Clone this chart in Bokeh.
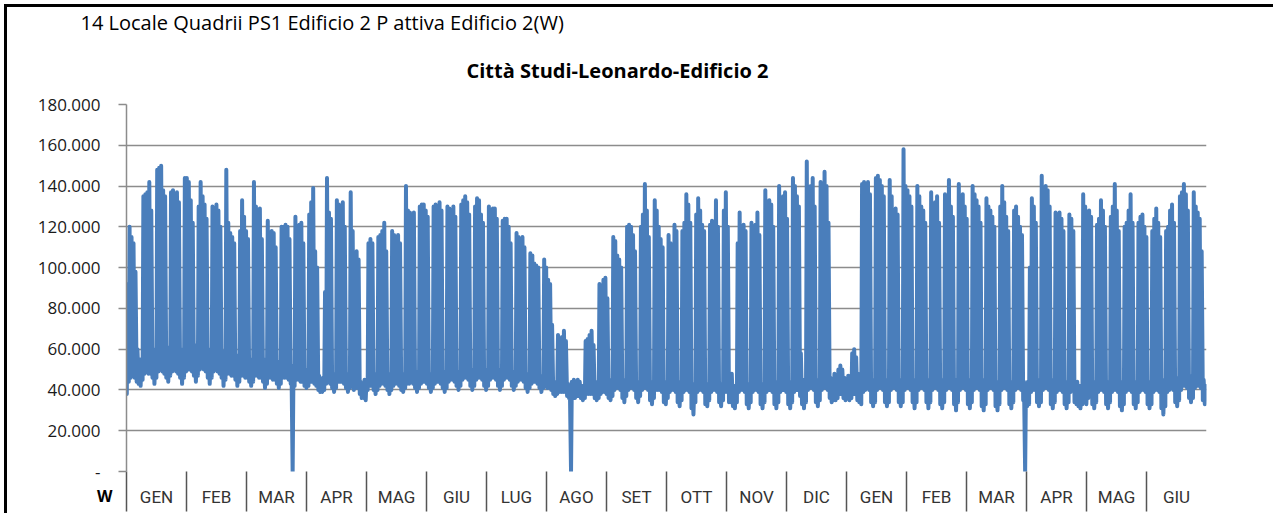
from bokeh.plotting import figure
from bokeh.layouts import column
from bokeh.models import FixedTicker, CustomJSTickFormatter, Range1d, Title, Div
from bokeh.embed import file_html
from bokeh.resources import INLINE

# ---------------- data (kW) ----------------
month_labels = ["GEN", "FEB", "MAR", "APR", "MAG", "GIU", "LUG", "AGO", "SET",
                "OTT", "NOV", "DIC", "GEN", "FEB", "MAR", "APR", "MAG", "GIU"]

y_ticks = [0, 20000, 40000, 60000, 80000, 100000, 120000, 140000, 160000, 180000]
y_tick_labels = ["-", "20.000", "40.000", "60.000", "80.000", "100.000",
                 "120.000", "140.000", "160.000", "180.000"]

# daily peak power (thousands of W), 1 Jan 2012 - 31 Dec 2012
day_peak_2012 = [
    92,120,115,112,98,60,55,52,135,136,137,142,128,60,55,148,149,150,138,135,61,56,137,138,136,137,132,60,55,144,144,  # GEN
    142,133,122,62,58,130,142,135,131,124,60,55,130,129,131,128,120,59,54,148,122,117,115,112,57,52,118,133,125,       # FEB
    118,114,55,51,142,130,128,129,114,55,50,123,116,118,117,110,54,50,120,120,121,120,114,52,48,125,118,121,122,112,50, # MAR
    48,126,132,139,108,100,47,44,46,88,144,127,124,48,45,133,131,130,132,120,48,45,137,118,52,108,104,44,42,45,         # APR
    45,112,114,112,48,45,115,116,118,122,108,48,45,118,116,114,116,112,48,45,140,128,127,125,127,49,46,130,131,131,128, # MAG
    125,48,45,130,131,130,132,128,49,46,130,129,127,130,125,49,46,131,133,135,132,126,50,47,130,134,133,126,122,50,     # GIU
    48,130,128,129,129,124,50,47,123,124,124,120,112,49,46,117,115,114,115,110,48,46,107,106,102,101,100,47,45,104,100, # LUG
    94,92,72,44,42,67,65,66,69,64,43,42,44,45,42,45,44,42,41,64,65,67,69,62,44,42,92,90,94,95,85,                      # AGO
    45,43,115,113,106,104,100,45,42,120,121,120,116,108,44,42,120,126,141,128,115,44,42,133,128,120,114,110,44,42,     # SET
    116,112,108,121,118,44,42,118,122,136,131,122,43,41,126,134,128,121,118,43,41,121,123,122,133,120,43,41,128,137,120, # OTT
    45,48,42,41,112,127,120,121,118,43,41,122,120,121,127,116,43,41,138,126,133,131,120,44,42,140,128,135,137,124,      # NOV
    44,42,144,140,135,130,58,45,43,152,135,140,144,130,45,43,142,138,147,140,122,46,44,48,45,50,52,50,46,44,47,        # DIC
]
# daily peak power (thousands of W), 1 Jan 2013 - 30 Jun 2013
day_peak_2013 = [
    46,58,60,56,48,46,141,142,140,142,136,45,43,144,145,143,140,135,45,43,143,135,128,129,126,45,43,158,140,138,135,   # GEN
    130,45,43,140,135,130,128,122,45,43,137,130,132,135,122,45,43,136,134,143,130,125,45,42,141,132,136,130,          # FEB
    124,45,43,140,136,133,130,122,45,43,134,130,128,125,120,44,42,130,140,132,125,118,44,42,128,130,125,120,116,44,42, # MAR
    44,100,134,130,122,45,42,145,136,140,138,130,45,42,127,125,127,124,118,44,42,126,124,118,42,44,42,40,136,130,     # APR
    45,128,125,44,42,121,124,133,128,120,44,42,125,130,141,128,118,44,42,120,122,128,136,122,44,42,122,125,126,120,115, # MAG
    44,42,118,124,129,122,115,45,42,118,120,128,131,122,46,43,135,137,141,136,128,47,44,137,130,127,124,108,45,42,     # GIU
]
# daily night minimum (thousands of W), 2012
day_low_2012 = [
    38,44,46,47,46,44,43,42,45,48,49,48,48,46,43,46,49,50,49,48,46,44,47,49,50,49,48,46,43,46,49,   # GEN
    50,50,49,47,44,47,50,51,50,49,46,43,46,49,50,49,48,46,42,45,48,48,47,47,45,42,44,47,47,         # FEB
    46,46,44,42,44,47,47,46,46,44,41,43,46,46,45,45,43,41,43,46,46,46,45,43,0,42,45,45,44,44,42,    # MAR
    41,42,44,44,43,42,40,39,39,40,43,44,43,41,39,41,44,44,44,43,41,39,41,43,40,41,41,38,36,36,      # APR
    35,40,42,42,40,38,40,42,43,43,42,40,38,40,42,43,43,42,40,39,41,43,43,44,43,41,39,41,43,44,44,   # MAG
    43,41,39,41,43,44,44,43,41,39,41,44,45,45,44,42,40,42,45,46,46,45,42,40,42,45,46,46,45,42,      # GIU
    40,42,45,46,46,45,42,40,42,45,46,46,45,42,40,42,44,45,45,44,41,39,41,43,44,44,43,41,39,41,43,   # LUG
    41,41,40,38,37,38,39,39,39,39,37,36,0,37,36,37,37,36,35,36,38,38,38,38,36,35,36,38,39,39,38,    # AGO
    36,35,37,40,41,41,40,36,34,37,40,41,41,40,36,34,37,40,41,41,40,35,33,36,40,40,40,39,34,33,      # SET
    36,39,40,40,39,34,32,35,39,40,40,39,31,28,34,39,40,40,39,33,32,35,39,40,40,39,34,32,35,39,39,   # OTT
    34,34,32,31,34,39,40,40,39,33,31,34,39,40,40,39,33,31,34,39,40,40,39,33,31,34,39,40,40,39,      # NOV
    33,31,34,39,40,40,37,33,31,34,40,41,41,40,34,32,35,40,41,41,40,36,34,35,35,36,38,38,36,35,36,   # DIC
]
# daily night minimum (thousands of W), 2013
day_low_2013 = [
    35,36,38,38,35,34,33,39,40,41,40,34,32,34,40,41,41,40,34,32,34,40,41,41,40,34,32,34,40,41,41,   # GEN
    40,34,31,34,40,41,41,40,34,31,34,40,41,41,40,33,31,34,40,41,41,40,33,30,34,40,41,41,            # FEB
    40,33,31,34,40,41,41,40,32,30,33,40,41,41,40,32,30,33,40,41,41,40,33,31,34,40,41,41,40,35,0,    # MAR
    32,33,39,40,40,34,32,34,40,41,41,40,33,31,34,39,40,40,39,33,31,34,39,40,34,33,32,31,33,39,      # APR
    33,36,39,33,31,34,39,40,40,39,33,31,34,39,40,40,39,32,30,33,39,40,40,39,33,31,34,39,40,40,39,   # MAG
    33,31,33,39,40,40,39,31,28,32,39,40,41,40,34,32,35,40,42,42,41,36,34,36,41,42,42,41,35,33,      # GIU
]

# ---------------- build the trace ----------------
peaks = day_peak_2012 + day_peak_2013
lows = day_low_2012 + day_low_2013
n_days = min(len(peaks), len(lows))
n_months = len(month_labels)
xs, ys = [], []
for i in range(n_days):
    xs.append((i + 0.15) * n_months / n_days)
    ys.append(lows[i] * 1000)
    xs.append((i + 0.55) * n_months / n_days)
    ys.append(peaks[i] * 1000)

BLUE = "#4A7EBB"
GRID = "#8C8C8C"

p = figure(width=1269, height=509, output_backend="svg", toolbar_location=None,
           x_range=Range1d(0, n_months), y_range=Range1d(0, 180000),
           min_border_left=119, min_border_right=70,
           min_border_top=97, min_border_bottom=45,
           background_fill_color="white", border_fill_color="white")
p.styles = {"border-left": "3px solid black", "border-top": "3px solid black",
            "margin-left": "4px", "margin-top": "4px"}
p.outline_line_color = None

p.line(xs, ys, line_color=BLUE, line_width=4, line_join="round", line_cap="round")

# y axis
p.yaxis.ticker = FixedTicker(ticks=y_ticks)
p.yaxis.major_label_overrides = {t: s for t, s in zip(y_ticks, y_tick_labels)}
p.yaxis.axis_line_color = GRID
p.yaxis.axis_line_width = 1.5
p.yaxis.major_tick_line_color = GRID
p.yaxis.major_tick_line_width = 1.5
p.yaxis.major_tick_out = 8
p.yaxis.major_tick_in = 0
p.yaxis.minor_tick_line_color = None
p.yaxis.major_label_standoff = 18
p.yaxis.major_label_text_font = "Open Sans"
p.yaxis.major_label_text_font_size = "17px"
p.yaxis.major_label_text_color = "#1a1a1a"

p.ygrid.grid_line_color = GRID
p.ygrid.grid_line_width = 1.5
p.xgrid.visible = False

# x axis: month labels at centres, separators at month boundaries
p.xaxis.ticker = FixedTicker(ticks=[k + 0.5 for k in range(n_months)],
                             minor_ticks=list(range(n_months)))
p.xaxis.formatter = CustomJSTickFormatter(args=dict(labels=month_labels),
                                          code="return labels[Math.floor(tick)] || '';")
p.xaxis.axis_line_color = None
p.xaxis.major_tick_line_color = None
p.xaxis.major_tick_out = 0
p.xaxis.major_tick_in = 0
p.xaxis.minor_tick_line_color = "#555555"
p.xaxis.minor_tick_line_width = 1.5
p.xaxis.minor_tick_in = 0
p.xaxis.minor_tick_out = 40
p.xaxis.major_label_standoff = -25
p.xaxis.major_label_text_font = "Roboto"
p.xaxis.major_label_text_font_size = "17px"
p.xaxis.major_label_text_color = "#333333"

# titles (main title closest to the frame, subtitle above it)
p.add_layout(Title(text="Città Studi-Leonardo-Edificio 2", align="left", offset=340,
                   standoff=42, text_font="Open Sans", text_font_size="20px",
                   text_font_style="bold", text_color="#000000"), "above")
p.add_layout(Title(text="14 Locale Quadrii PS1 Edificio 2 P attiva Edificio 2(W)",
                   align="left", offset=-46, standoff=-4, text_font="Open Sans",
                   text_font_size="20px", text_font_style="normal",
                   text_color="#000000"), "above")

# unit label left of the month row
unit_label = Div(text="W", styles={"margin-top": "-28px", "margin-left": "97px",
                                   "font-family": "Open Sans", "font-weight": "bold",
                                   "font-size": "16px", "color": "#000000",
                                   "line-height": "22px"})

layout = column(p, unit_label)
open("out.html", "w").write(file_html(layout, INLINE))
